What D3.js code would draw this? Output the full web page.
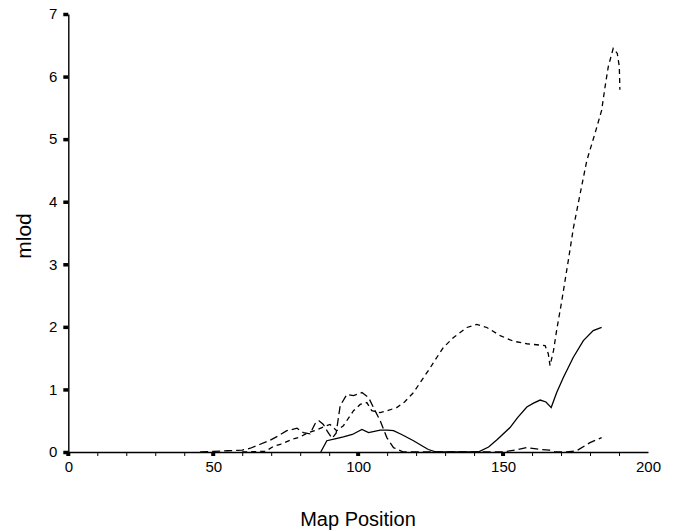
<!DOCTYPE html>
<html lang="en">
<head>
	<meta charset="UTF-8">
	<title>mlod by map position</title>
	<script src="https://d3js.org/d3.v7.min.js"></script>
	<style>
		body, html {
			margin: 0;
			padding: 0;
			background: #fff;
			overflow: hidden;
		}
		svg {
			display: block;
		}
		.tick text {
			font-family: "Liberation Sans", Arial, sans-serif;
			font-size: 15px;
			fill: #000;
		}
		.axis-title {
			font-family: "Liberation Sans", Arial, sans-serif;
			fill: #000;
		}
		.series {
			fill: none;
			stroke: #000;
			stroke-width: 1.3;
		}
	</style>
</head>
<body>
<div id="chart"></div>
	<script>
		// Values (map position, mlod)
		const solidPos = [87.1, 89.2, 92, 94.9, 98, 101.3, 103.6, 107.6, 110, 112.2, 115, 119.1, 122, 124.2, 127,
			141.4, 145, 148, 152.4, 155, 158.2, 160.5, 162.8, 164.8, 166.6, 168.5, 170.8, 174.2, 177.7, 181.1, 184];
		const solidVal = [0, 0.18, 0.21, 0.24, 0.28, 0.36, 0.31, 0.35, 0.35, 0.34, 0.28, 0.18, 0.1, 0.04, 0,
			0, 0.08, 0.2, 0.39, 0.55, 0.72, 0.78, 0.83, 0.8, 0.71, 0.95, 1.19, 1.51, 1.78, 1.94, 1.99];

		const longDashPos = [45.5, 50, 55, 60, 62.8, 66, 69.7, 72.5, 75.4, 78.9, 81.1, 83.4, 85.1, 86.5, 88, 89.5, 91,
			92.4, 93.8, 96.1, 98.4, 101.3, 103.6, 105.3, 107.6, 109.9, 112.2, 115.6, 130, 150, 154, 158.2,
			162.8, 166, 168, 172, 175.4, 180, 184];
		const longDashVal = [0, 0.01, 0.02, 0.03, 0.06, 0.12, 0.19, 0.26, 0.34, 0.38, 0.31, 0.29, 0.45, 0.5, 0.44, 0.32, 0.22,
			0.3, 0.74, 0.92, 0.9, 0.95, 0.87, 0.71, 0.5, 0.23, 0.07, 0, 0, 0, 0.03, 0.07,
			0.04, 0.03, 0, 0, 0.02, 0.15, 0.23];

		const shortDashPos = [60, 68, 70.8, 73.1, 77.7, 80, 82.3, 85, 88, 90.3, 92.6, 94.9, 98.4, 100.7, 103, 104.7,
			107.6, 110, 113.3, 116, 119.1, 121.4, 124.2, 126, 129.4, 132.9, 137.5, 140.9, 144.4, 149, 153.6,
			158.2, 164.5, 165.6, 166.2, 167.4, 168.5, 170.2, 172.5, 174.3, 176.6, 178.9, 181.7, 184, 185.2,
			186.3, 188, 189.4, 190.1, 190.3];
		const shortDashVal = [0, 0.01, 0.09, 0.12, 0.21, 0.24, 0.3, 0.34, 0.4, 0.44, 0.34, 0.42, 0.66, 0.76, 0.79, 0.66,
			0.63, 0.66, 0.71, 0.8, 0.95, 1.11, 1.3, 1.43, 1.67, 1.83, 1.99, 2.04, 1.99, 1.86, 1.77,
			1.73, 1.7, 1.57, 1.38, 1.62, 1.95, 2.4, 3.06, 3.59, 4.13, 4.66, 5.09, 5.46, 5.84,
			6.16, 6.45, 6.37, 6.16, 5.79];

		const xTickValues = d3.range(0, 201, 10);
		const xLabelValues = [0, 50, 100, 150, 200];
		const yTickValues = [0, 1, 2, 3, 4, 5, 6, 7];

		function zipSeries(pos, val) {
			return pos.map((p, i) => ({ x: p, y: val[i] }));
		}

		const seriesList = [
			{ name: "solid", data: zipSeries(solidPos, solidVal), dash: null },
			{ name: "long", data: zipSeries(longDashPos, longDashVal), dash: "8,4" },
			{ name: "short", data: zipSeries(shortDashPos, shortDashVal), dash: "5,4" }
		];

		const width = 680;
		const height = 531;

		const svg = d3.select("#chart")
			.append("svg")
			.attr("width", width)
			.attr("height", height);

		const x = d3.scaleLinear().domain([0, 200]).range([68.3, 648]);
		const y = d3.scaleLinear().domain([0, 7]).range([452, 14]);

		// x axis: minor ticks every 10, labels only at 50s
		const xAxis = svg.append("g")
			.attr("transform", `translate(0,${y(0)})`)
			.call(d3.axisBottom(x)
				.tickValues(xTickValues)
				.tickSize(4)
				.tickSizeOuter(0)
				.tickFormat(d => xLabelValues.includes(d) ? d : ""));
		xAxis.select(".domain").attr("stroke", "#000").attr("stroke-width", 1.4);
		xAxis.selectAll(".tick line").attr("stroke", "#000")
			.attr("opacity", d => d === 200 ? 0 : 1);
		xAxis.selectAll(".tick text").attr("dy", "0.9em").attr("y", 6);

		// bigger square markers at the labelled positions
		xAxis.selectAll(".major")
			.data(xLabelValues.filter(d => d < 200))
			.enter()
			.append("rect")
			.attr("class", "major")
			.attr("x", d => x(d) - 2)
			.attr("y", 0)
			.attr("width", 4)
			.attr("height", 4)
			.attr("fill", "#000");

		// y axis with small block ticks
		const yAxis = svg.append("g")
			.attr("transform", `translate(${x(0)},0)`)
			.call(d3.axisLeft(y)
				.tickValues(yTickValues)
				.tickFormat(d3.format("d"))
				.tickSize(5)
				.tickSizeOuter(0)
				.tickPadding(6));
		yAxis.select(".domain").attr("stroke", "#000").attr("stroke-width", 1.4);
		yAxis.selectAll(".tick line").attr("stroke", "#000").attr("stroke-width", 3.5);

		const line = d3.line()
			.x(d => x(d.x))
			.y(d => y(d.y));

		svg.selectAll(".series")
			.data(seriesList)
			.enter()
			.append("path")
			.attr("class", "series")
			.attr("d", d => line(d.data))
			.attr("stroke-dasharray", d => d.dash);

		svg.append("text")
			.attr("class", "axis-title")
			.attr("x", 358)
			.attr("y", 526)
			.attr("text-anchor", "middle")
			.style("font-size", "20px")
			.text("Map Position");

		svg.append("text")
			.attr("class", "axis-title")
			.attr("transform", "translate(31,236) rotate(-90)")
			.attr("text-anchor", "middle")
			.style("font-size", "21px")
			.text("mlod");
	</script>
</body>
</html>
